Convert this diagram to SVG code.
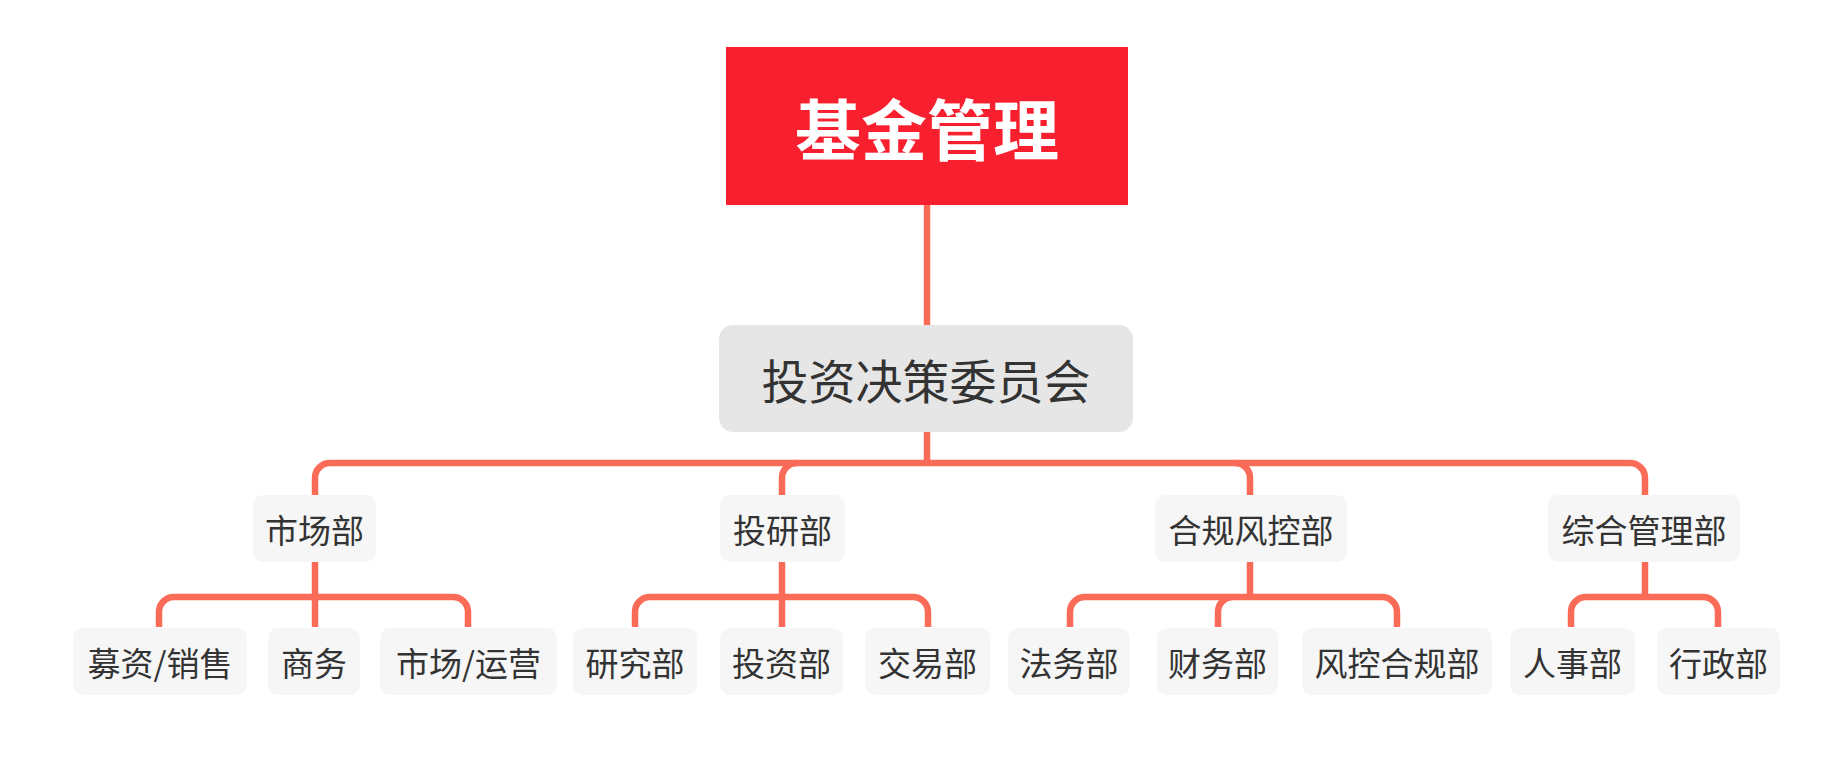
<svg xmlns="http://www.w3.org/2000/svg" width="1845" height="761" viewBox="0 0 1845 761">
<style>
.t{font-family:"Noto Sans CJK SC","Microsoft YaHei",sans-serif;fill:#333333;text-anchor:middle;dominant-baseline:central}
.l2,.l3{fill:#F6F6F6}
.c{fill:none;stroke:#FA6C58;stroke-width:6.5;stroke-linecap:butt}
</style>
<rect width="1845" height="761" fill="#FFFFFF"/>
<g id="connectors">
<path class="c" d="M927,205 V325"/>
<path class="c" d="M927,432 V463"/>
<path class="c" d="M315,495 V478 A15,15 0 0 1 330,463 H1630 A15,15 0 0 1 1645,478 V495"/>
<path class="c" d="M782,495 V478 A15,15 0 0 1 797,463"/>
<path class="c" d="M1250,495 V478 A15,15 0 0 0 1235,463"/>
<path class="c" d="M315,562 V627"/>
<path class="c" d="M159,627 V612 A15,15 0 0 1 174,597 H453 A15,15 0 0 1 468,612 V627"/>
<path class="c" d="M782,562 V627"/>
<path class="c" d="M635,627 V612 A15,15 0 0 1 650,597 H913 A15,15 0 0 1 928,612 V627"/>
<path class="c" d="M1250,562 V597"/>
<path class="c" d="M1070,627 V612 A15,15 0 0 1 1085,597 H1382 A15,15 0 0 1 1397,612 V627"/>
<path class="c" d="M1218,627 V612 A15,15 0 0 1 1233,597"/>
<path class="c" d="M1645,562 V597"/>
<path class="c" d="M1571,627 V612 A15,15 0 0 1 1586,597 H1703 A15,15 0 0 1 1718,612 V627"/>
</g>
<g id="root">
<rect x="726" y="47" width="402" height="158" fill="#F8202F"/>
<text class="t" x="927" y="126" font-size="66" font-weight="bold" style="fill:#FFFFFF">基金管理</text>
</g>
<g id="committee">
<rect x="719" y="325" width="414" height="107" rx="14" fill="#E6E6E6"/>
<text class="t" x="926" y="378" font-size="47">投资决策委员会</text>
</g>
<g id="n-market">
<rect class="l2" x="253" y="495" width="123" height="67" rx="10"/>
<text class="t" x="314.5" y="529" font-size="33">市场部</text>
</g>
<g id="n-research">
<rect class="l2" x="720" y="495" width="125" height="67" rx="10"/>
<text class="t" x="782.5" y="529" font-size="33">投研部</text>
</g>
<g id="n-compliance">
<rect class="l2" x="1155" y="495" width="192" height="67" rx="10"/>
<text class="t" x="1251" y="529" font-size="33">合规风控部</text>
</g>
<g id="n-admin">
<rect class="l2" x="1548" y="495" width="192" height="67" rx="10"/>
<text class="t" x="1644" y="529" font-size="33">综合管理部</text>
</g>
<g id="n-fundraising">
<rect class="l3" x="73" y="628" width="174" height="67" rx="10"/>
<text class="t" x="160" y="662" font-size="33">募资/销售</text>
</g>
<g id="n-business">
<rect class="l3" x="268" y="628" width="92" height="67" rx="10"/>
<text class="t" x="314" y="662" font-size="33">商务</text>
</g>
<g id="n-marketops">
<rect class="l3" x="380" y="628" width="177" height="67" rx="10"/>
<text class="t" x="468.5" y="662" font-size="33">市场/运营</text>
</g>
<g id="n-study">
<rect class="l3" x="573" y="628" width="124" height="67" rx="10"/>
<text class="t" x="635" y="662" font-size="33">研究部</text>
</g>
<g id="n-invest">
<rect class="l3" x="720" y="628" width="123" height="67" rx="10"/>
<text class="t" x="781.5" y="662" font-size="33">投资部</text>
</g>
<g id="n-trade">
<rect class="l3" x="865" y="628" width="125" height="67" rx="10"/>
<text class="t" x="927.5" y="662" font-size="33">交易部</text>
</g>
<g id="n-legal">
<rect class="l3" x="1008" y="628" width="122" height="67" rx="10"/>
<text class="t" x="1069" y="662" font-size="33">法务部</text>
</g>
<g id="n-finance">
<rect class="l3" x="1157" y="628" width="121" height="67" rx="10"/>
<text class="t" x="1217.5" y="662" font-size="33">财务部</text>
</g>
<g id="n-risk">
<rect class="l3" x="1302" y="628" width="190" height="67" rx="10"/>
<text class="t" x="1397" y="662" font-size="33">风控合规部</text>
</g>
<g id="n-hr">
<rect class="l3" x="1510" y="628" width="125" height="67" rx="10"/>
<text class="t" x="1572.5" y="662" font-size="33">人事部</text>
</g>
<g id="n-office">
<rect class="l3" x="1657" y="628" width="123" height="67" rx="10"/>
<text class="t" x="1718.5" y="662" font-size="33">行政部</text>
</g>
</svg>
